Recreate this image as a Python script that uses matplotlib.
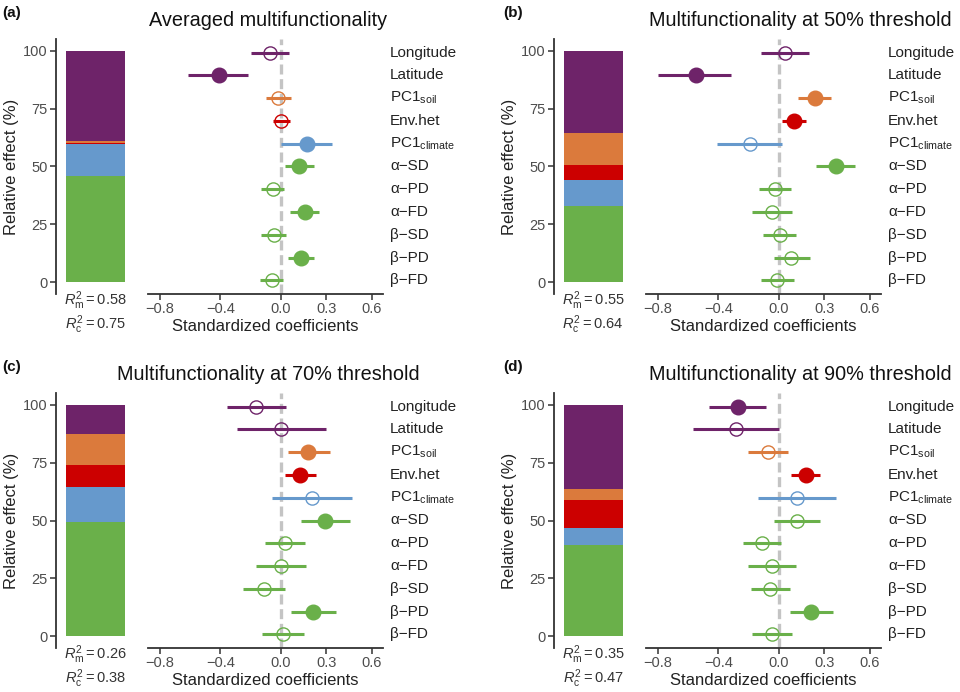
import matplotlib
matplotlib.use("Agg")
import matplotlib.pyplot as plt
import numpy as np

plt.rcParams['font.family'] = ['Liberation Sans', 'DejaVu Sans']
plt.rcParams['mathtext.fontset'] = 'custom'
plt.rcParams['mathtext.rm'] = 'Liberation Sans'
plt.rcParams['mathtext.it'] = 'Liberation Sans:italic'
plt.rcParams['mathtext.bf'] = 'Liberation Sans:bold'

# ---------------- data ----------------
predictors = ["Longitude", "Latitude", r"PC1$_\mathrm{soil}$", "Env.het",
              r"PC1$_\mathrm{climate}$", "α−SD", "α−PD", "α−FD",
              "β−SD", "β−PD", "β−FD"]
groups = ["space", "space", "soil", "env", "climate",
          "div", "div", "div", "div", "div", "div"]

titles = ["Averaged multifunctionality",
          "Multifunctionality at 50% threshold",
          "Multifunctionality at 70% threshold",
          "Multifunctionality at 90% threshold"]
panel_tags = ["(a)", "(b)", "(c)", "(d)"]

est_a = [-0.07, -0.41, -0.02, 0.00, 0.17, 0.12, -0.055, 0.16, -0.045, 0.135, -0.06]
lo_a = [-0.20, -0.61, -0.10, -0.05, 0.00, 0.03, -0.13, 0.06, -0.13, 0.05, -0.14]
hi_a = [0.055, -0.22, 0.064, 0.06, 0.34, 0.22, 0.02, 0.25, 0.035, 0.22, 0.015]
sig_a = [False, True, False, False, True, True, False, True, False, True, False]

est_b = [0.04, -0.55, 0.24, 0.10, -0.19, 0.38, -0.026, -0.048, 0.007, 0.083, -0.011]
lo_b = [-0.12, -0.80, 0.127, 0.022, -0.41, 0.246, -0.13, -0.175, -0.103, -0.033, -0.12]
hi_b = [0.197, -0.316, 0.346, 0.182, 0.022, 0.504, 0.079, 0.088, 0.114, 0.208, 0.099]
sig_b = [False, True, True, True, False, True, False, False, False, False, False]

est_c = [-0.164, 0.004, 0.182, 0.129, 0.204, 0.294, 0.026, 0.0, -0.112, 0.213, 0.015]
lo_c = [-0.357, -0.287, 0.046, 0.03, -0.061, 0.136, -0.105, -0.164, -0.248, 0.066, -0.123]
hi_c = [0.033, 0.30, 0.322, 0.23, 0.471, 0.454, 0.158, 0.164, 0.029, 0.366, 0.154]
sig_c = [False, False, True, True, False, True, False, False, False, True, False]

est_d = [-0.27, -0.285, -0.07, 0.182, 0.12, 0.12, -0.11, -0.048, -0.059, 0.215, -0.048]
lo_d = [-0.46, -0.57, -0.204, 0.081, -0.14, -0.033, -0.235, -0.204, -0.186, 0.072, -0.178]
hi_d = [-0.083, 0.004, 0.061, 0.274, 0.377, 0.274, 0.015, 0.11, 0.075, 0.357, 0.088]
sig_d = [True, False, False, True, False, False, False, False, False, True, False]

# relative effects (%), stacked from bottom: diversity, climate, env.het, soil, space
stack_groups = ["div", "climate", "env", "soil", "space"]
rel_a = [46.1, 13.7, 0.5, 0.9, 38.8]
rel_b = [32.8, 11.5, 6.3, 13.8, 35.6]
rel_c = [49.5, 14.8, 9.7, 13.5, 12.5]
rel_d = [39.5, 7.4, 11.8, 4.7, 36.6]

r2m = ["0.58", "0.55", "0.26", "0.35"]
r2c = ["0.75", "0.64", "0.38", "0.47"]

xticks = [-0.8, -0.4, 0.0, 0.3, 0.6]
xtick_labels = ["−0.8", "−0.4", "0.0", "0.3", "0.6"]
yticks_rel = [0, 25, 50, 75, 100]

colors = {"space": "#6E2369", "soil": "#DB7A3C", "env": "#CC0000",
          "climate": "#6699CC", "div": "#6AB04A"}

panels = [
    (est_a, lo_a, hi_a, sig_a, rel_a),
    (est_b, lo_b, hi_b, sig_b, rel_b),
    (est_c, lo_c, hi_c, sig_c, rel_c),
    (est_d, lo_d, hi_d, sig_d, rel_d),
]

W, H = 960, 692
fig = plt.figure(figsize=(W / 100, H / 100), dpi=100)

def px_axes(x0, y0, x1, y1):
    return fig.add_axes([x0 / W, 1 - y1 / H, (x1 - x0) / W, (y1 - y0) / H])

offsets = [(0, 0), (498, 0), (0, 354), (498, 354)]
axis_col = "#333333"
tick_col = "#4D4D4D"

for i, (est, lo, hi, sig, rel) in enumerate(panels):
    dx, dy = offsets[i]
    # ---- stacked relative effect bar ----
    axb = px_axes(56 + dx, 39 + dy, 135 + dx, 294 + dy)
    bottom = 0
    for g, v in zip(stack_groups, rel):
        axb.bar(1, v, width=0.9, bottom=bottom, color=colors[g], linewidth=0)
        bottom += v
    axb.set_xlim(0.4, 1.6)
    axb.set_ylim(-5, 105)
    axb.set_yticks(yticks_rel)
    axb.set_xticks([])
    for s in ["top", "right", "bottom"]:
        axb.spines[s].set_visible(False)
    axb.spines["left"].set_color(axis_col)
    axb.spines["left"].set_linewidth(1.3)
    axb.tick_params(axis="y", labelsize=10.5, colors=axis_col, labelcolor=tick_col,
                    length=4, width=1.1, pad=2)
    axb.set_ylabel("Relative effect (%)", fontsize=12, color="#222222", labelpad=3)
    fig.text((95 + dx) / W, 1 - (301 + dy) / H, r"$R^2_\mathrm{m}=$" + r2m[i],
             ha="center", va="center", fontsize=10.5, color="#333333")
    fig.text((95 + dx) / W, 1 - (325 + dy) / H, r"$R^2_\mathrm{c}=$" + r2c[i],
             ha="center", va="center", fontsize=10.5, color="#333333")

    # ---- forest plot ----
    axf = px_axes(148 + dx, 39 + dy, 383 + dx, 294 + dy)
    n = len(predictors)
    ys = np.arange(n, 0, -1)
    axf.axvline(0, color="#C4C4C4", lw=2.4, ls=(0, (3, 1.4)), zorder=1)
    for k in range(n):
        c = colors[groups[k]]
        axf.plot([lo[k], hi[k]], [ys[k], ys[k]], color=c, lw=2.2,
                 solid_capstyle="butt", zorder=2)
        if sig[k]:
            axf.plot(est[k], ys[k], "o", ms=10.5, color=c, mec=c, zorder=3)
        else:
            axf.plot(est[k], ys[k], "o", ms=9.5, mfc="none", mec=c, mew=1.0,
                     zorder=3)
        axf.text(1.03, ys[k], predictors[k], transform=axf.get_yaxis_transform(),
                 ha="left", va="center", fontsize=11, color="#222222")
    axf.set_xlim(-0.877, 0.674)
    axf.set_ylim(0.4, n + 0.6)
    axf.set_xticks(xticks)
    axf.set_xticklabels(xtick_labels)
    axf.set_yticks([])
    for s in ["top", "right", "left"]:
        axf.spines[s].set_visible(False)
    axf.spines["bottom"].set_color(axis_col)
    axf.spines["bottom"].set_linewidth(1.3)
    axf.tick_params(axis="x", labelsize=10.5, colors=axis_col, labelcolor=tick_col,
                    length=4, width=1.1, pad=2)
    axf.set_xlabel("Standardized coefficients", fontsize=12, color="#222222",
                   labelpad=2)
    # title
    tx = (268 if i in (0, 2) else 302) + dx
    fig.text(tx / W, 1 - (20 + dy) / H, titles[i], ha="center", va="center",
             fontsize=14.3, color="#111111")
    fig.text((2 + dx + (3 if i % 2 else 0)) / W, 1 - (13 + dy) / H, panel_tags[i],
             ha="left", va="center", fontsize=11, fontweight="bold", color="#111111")

fig.savefig("out.png", dpi=100)
